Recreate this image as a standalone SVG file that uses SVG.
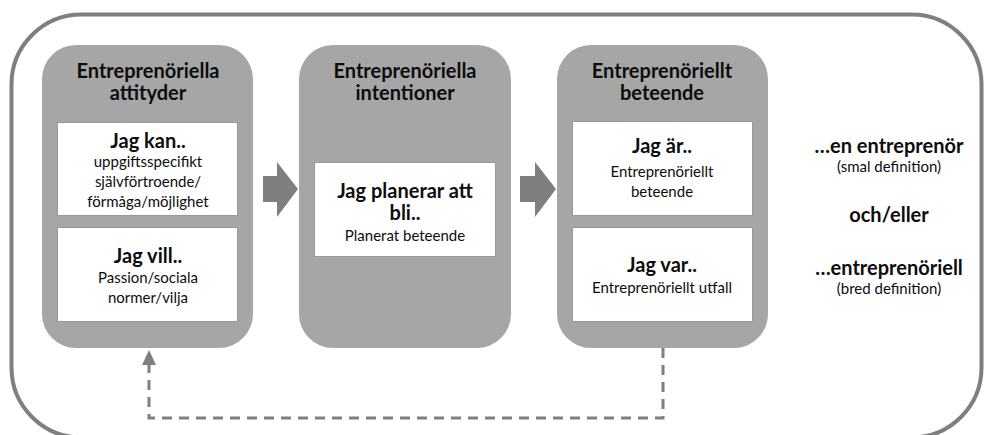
<svg xmlns="http://www.w3.org/2000/svg" width="985" height="435" viewBox="0 0 985 435">
<style>
.outer{fill:#ffffff;stroke:#7f7f7f;stroke-width:4}
.box{fill:#a6a6a6}
.inner{fill:#ffffff;stroke:#989898;stroke-width:1}
.barrow{fill:#7f7f7f}
.dash{fill:none;stroke:#7f7f7f;stroke-width:3;stroke-dasharray:10 7}
text{font-family:Lato,"Liberation Sans",sans-serif;fill:#0d0d0d;text-anchor:middle}
.h{font-size:20px;font-weight:bold}
.s{font-size:15px}
</style>
<defs>
<marker id="ah" markerUnits="userSpaceOnUse" viewBox="0 0 15 14" markerWidth="15" markerHeight="14" refX="1" refY="7" orient="auto">
<path d="M0,0 L15,7 L0,14 z" fill="#7f7f7f"/>
</marker>
</defs>
<rect class="outer" x="11.5" y="14.5" width="970" height="423" rx="70" ry="70"/>

<g id="attityder">
<rect class="box" x="42" y="45" width="211" height="303" rx="34" ry="34"/>
<text class="h" x="148" y="78">Entreprenöriella</text>
<text class="h" x="148" y="100">attityder</text>
<rect class="inner" x="57.5" y="122.5" width="180" height="93"/>
<text class="h" x="148" y="148">Jag kan..</text>
<text class="s" x="148" y="167">uppgiftsspecifikt</text>
<text class="s" x="148" y="187">självförtroende/</text>
<text class="s" x="148" y="207">förmåga/möjlighet</text>
<rect class="inner" x="57.5" y="227.5" width="180" height="94"/>
<text class="h" x="148" y="263">Jag vill..</text>
<text class="s" x="148" y="283">Passion/sociala</text>
<text class="s" x="148" y="303">normer/vilja</text>
</g>

<g id="intentioner">
<rect class="box" x="299" y="45" width="212" height="303" rx="34" ry="34"/>
<text class="h" x="405" y="78">Entreprenöriella</text>
<text class="h" x="405" y="100">intentioner</text>
<rect class="inner" x="314.5" y="162.5" width="181" height="94"/>
<text class="h" x="405" y="198">Jag planerar att</text>
<text class="h" x="405" y="220">bli..</text>
<text class="s" x="405" y="241">Planerat beteende</text>
</g>

<g id="beteende">
<rect class="box" x="557" y="45" width="211" height="303" rx="34" ry="34"/>
<text class="h" x="662" y="78">Entreprenöriellt</text>
<text class="h" x="662" y="100">beteende</text>
<rect class="inner" x="572.5" y="121.5" width="180" height="94"/>
<text class="h" x="662" y="153">Jag är..</text>
<text class="s" x="662" y="177">Entreprenöriellt</text>
<text class="s" x="662" y="197">beteende</text>
<rect class="inner" x="572.5" y="227.5" width="180" height="94"/>
<text class="h" x="662" y="272">Jag var..</text>
<text class="s" x="662" y="293">Entreprenöriellt utfall</text>
</g>

<g id="utfall">
<text class="h" x="889" y="153">…en entreprenör</text>
<text class="s" x="889" y="172">(smal definition)</text>
<text class="h" x="889" y="222">och/eller</text>
<text class="h" x="889" y="275">…entreprenöriell</text>
<text class="s" x="889" y="294">(bred definition)</text>
</g>

<g id="connectors">
<polygon class="barrow" points="263,176 277,176 277,162 298,189 277,217 277,202 263,202"/>
<polygon class="barrow" points="520,176 535,176 535,162 556,189 535,217 535,202 520,202"/>
<path class="dash" d="M663,348 V418 H149 V364" marker-end="url(#ah)"/>
</g>
</svg>
